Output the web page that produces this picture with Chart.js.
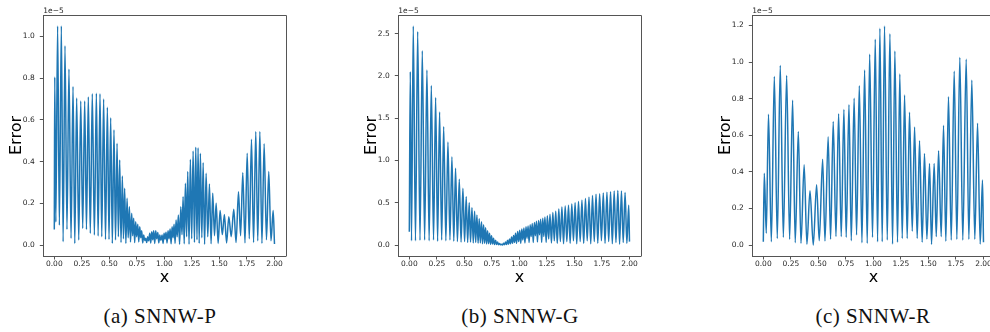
<!DOCTYPE html>
<html>
<head>
<meta charset="utf-8">
<script src="https://cdn.jsdelivr.net/npm/chart.js@4.4.1/dist/chart.umd.min.js"></script>
<style>
  html, body { margin: 0; padding: 0; background: #fff; width: 990px; height: 332px; overflow: hidden; }
  .panel { position: absolute; top: 0; }
  .cap {
    position: absolute; top: 306px; transform: translateX(-50%);
    font: 21px "Liberation Serif", serif; line-height: 21px; letter-spacing: 0.5px;
    white-space: nowrap; color: #111;
  }
</style>
</head>
<body>
<canvas id="chartA" class="panel" width="300" height="290" style="left:0px"></canvas>
<canvas id="chartB" class="panel" width="300" height="290" style="left:355px"></canvas>
<canvas id="chartC" class="panel" width="300" height="290" style="left:709px"></canvas>
<div class="cap" style="left:160px">(a) SNNW-P</div>
<div class="cap" style="left:520px">(b) SNNW-G</div>
<div class="cap" style="left:873px">(c) SNNW-R</div>

<script>
// error curves, values in units of 1e-5 (peaks and troughs)

// ---- (a) SNNW-P
const aPeakX = [0.004, 0.030, 0.064, 0.097, 0.133, 0.170, 0.203, 0.240, 0.276, 0.309, 0.345, 0.382, 0.415, 0.448, 0.482,
  0.512, 0.542, 0.570, 0.594, 0.618, 0.639, 0.661, 0.682, 0.703, 0.721, 0.739, 0.758, 0.776, 0.794, 0.812,
  0.830, 0.848, 0.867, 0.885, 0.903, 0.921, 0.940, 0.958, 0.979, 0.997, 1.015, 1.033, 1.052, 1.070, 1.088,
  1.106, 1.127, 1.149, 1.170, 1.191, 1.212, 1.236, 1.261, 1.285, 1.306, 1.327, 1.352, 1.379, 1.409, 1.439,
  1.470, 1.506, 1.545, 1.585, 1.630, 1.673, 1.712, 1.752, 1.791, 1.830, 1.867, 1.906, 1.948, 1.988];
const aPeakY = [0.805, 1.05, 1.05, 0.955, 0.843, 0.760, 0.705, 0.690, 0.690, 0.710, 0.725, 0.727, 0.725, 0.700, 0.660,
  0.610, 0.552, 0.488, 0.408, 0.331, 0.272, 0.224, 0.184, 0.152, 0.128, 0.112, 0.100, 0.088, 0.069, 0.048,
  0.032, 0.040, 0.056, 0.064, 0.069, 0.069, 0.060, 0.048, 0.048, 0.056, 0.061, 0.069, 0.077, 0.088, 0.100,
  0.120, 0.144, 0.184, 0.232, 0.296, 0.352, 0.411, 0.451, 0.469, 0.466, 0.440, 0.395, 0.344, 0.293, 0.248,
  0.200, 0.165, 0.146, 0.136, 0.171, 0.256, 0.347, 0.440, 0.507, 0.544, 0.544, 0.485, 0.352, 0.165];
const aTroughX = [0.000, 0.014, 0.046, 0.080, 0.115, 0.152, 0.186, 0.222, 0.258, 0.292, 0.327, 0.364, 0.398, 0.431, 0.465,
  0.497, 0.527, 0.556, 0.582, 0.606, 0.628, 0.650, 0.671, 0.692, 0.712, 0.730, 0.748, 0.767, 0.785, 0.803,
  0.821, 0.839, 0.857, 0.876, 0.894, 0.912, 0.930, 0.949, 0.968, 0.988, 1.006, 1.024, 1.042, 1.061, 1.079,
  1.097, 1.116, 1.138, 1.160, 1.180, 1.202, 1.224, 1.248, 1.273, 1.296, 1.316, 1.340, 1.365, 1.394, 1.424,
  1.455, 1.488, 1.526, 1.565, 1.607, 1.651, 1.692, 1.732, 1.771, 1.810, 1.848, 1.886, 1.927, 1.968, 2.000];
const aTroughY = [0.075, 0.110, 0.095, 0.016, 0.075, 0.032, 0.008, 0.024, 0.080, 0.075, 0.056, 0.048, 0.043, 0.040, 0.027,
  0.027, 0.008, 0.024, 0.040, 0.012, 0.030, 0.008, 0.035, 0.015, 0.045, 0.012, 0.040, 0.015, 0.035, 0.010,
  0.022, 0.012, 0.020, 0.010, 0.025, 0.008, 0.030, 0.010, 0.022, 0.008, 0.028, 0.010, 0.030, 0.006, 0.035,
  0.008, 0.040, 0.004, 0.050, 0.006, 0.040, 0.004, 0.030, 0.012, 0.025, 0.008, 0.035, 0.004, 0.040, 0.006,
  0.045, 0.008, 0.050, 0.010, 0.040, 0.012, 0.045, 0.010, 0.030, 0.012, 0.020, 0.008, 0.025, 0.020, 0.005];

// ---- (b) SNNW-G
const bPeakX = [0.009, 0.036, 0.076, 0.118, 0.160, 0.200, 0.239, 0.275, 0.312, 0.351, 0.387, 0.420, 0.454, 0.487, 0.517,
  0.544, 0.569, 0.593, 0.614, 0.635, 0.656, 0.675, 0.693, 0.711, 0.729, 0.747, 0.765, 0.784, 0.802, 0.820,
  0.838, 0.856, 0.874, 0.892, 0.910, 0.929, 0.947, 0.965, 0.984, 1.003, 1.022, 1.041, 1.060, 1.079, 1.098,
  1.117, 1.136, 1.155, 1.174, 1.193, 1.212, 1.232, 1.254, 1.278, 1.304, 1.330, 1.358, 1.386, 1.416, 1.446,
  1.476, 1.506, 1.537, 1.568, 1.600, 1.632, 1.664, 1.696, 1.729, 1.762, 1.795, 1.828, 1.861, 1.894, 1.927,
  1.960, 1.993];
const bPeakY = [2.05, 2.59, 2.524, 2.296, 2.07, 1.885, 1.743, 1.574, 1.40, 1.219, 1.045, 0.907, 0.777, 0.670, 0.572,
  0.500, 0.440, 0.400, 0.355, 0.310, 0.275, 0.240, 0.205, 0.170, 0.140, 0.110, 0.080, 0.055, 0.035, 0.018,
  0.008, 0.020, 0.035, 0.055, 0.072, 0.095, 0.112, 0.140, 0.160, 0.175, 0.190, 0.200, 0.215, 0.225, 0.240,
  0.255, 0.265, 0.280, 0.290, 0.305, 0.315, 0.330, 0.345, 0.365, 0.385, 0.400, 0.425, 0.450, 0.460, 0.470,
  0.485, 0.500, 0.515, 0.530, 0.550, 0.565, 0.585, 0.600, 0.605, 0.615, 0.625, 0.630, 0.640, 0.645, 0.640,
  0.620, 0.470];
const bTroughX = [0.000, 0.020, 0.056, 0.097, 0.139, 0.180, 0.220, 0.257, 0.294, 0.332, 0.369, 0.404, 0.437, 0.470, 0.502,
  0.530, 0.556, 0.581, 0.603, 0.625, 0.645, 0.665, 0.684, 0.702, 0.720, 0.738, 0.756, 0.774, 0.793, 0.811,
  0.829, 0.847, 0.865, 0.883, 0.901, 0.919, 0.938, 0.956, 0.974, 0.993, 1.012, 1.031, 1.050, 1.069, 1.088,
  1.107, 1.126, 1.145, 1.164, 1.183, 1.202, 1.222, 1.243, 1.266, 1.291, 1.317, 1.344, 1.372, 1.401, 1.431,
  1.461, 1.491, 1.521, 1.552, 1.584, 1.616, 1.648, 1.680, 1.712, 1.745, 1.778, 1.811, 1.844, 1.877, 1.910,
  1.943, 1.976, 2.000];
const bTroughY = [0.157, 0.050, 0.050, 0.055, 0.060, 0.050, 0.060, 0.045, 0.060, 0.050, 0.060, 0.045, 0.040, 0.035, 0.040,
  0.030, 0.035, 0.025, 0.030, 0.020, 0.025, 0.015, 0.020, 0.012, 0.015, 0.008, 0.012, 0.005, 0.006, 0.003,
  0.002, 0.001, 0.003, 0.006, 0.010, 0.015, 0.020, 0.030, 0.020, 0.040, 0.020, 0.060, 0.025, 0.080, 0.030,
  0.100, 0.030, 0.110, 0.035, 0.120, 0.030, 0.100, 0.030, 0.070, 0.025, 0.050, 0.020, 0.040, 0.015, 0.040,
  0.020, 0.050, 0.015, 0.040, 0.020, 0.050, 0.015, 0.040, 0.020, 0.050, 0.020, 0.040, 0.015, 0.030, 0.010,
  0.030, 0.020, 0.040];

// ---- (c) SNNW-R
const cPeakX = [0.009, 0.047, 0.100, 0.154, 0.212, 0.266, 0.318, 0.371, 0.424, 0.484, 0.539, 0.589, 0.635, 0.684,
  0.732, 0.778, 0.825, 0.872, 0.920, 0.966, 1.017, 1.059, 1.101, 1.150, 1.195, 1.240, 1.283, 1.328,
  1.374, 1.419, 1.464, 1.510, 1.552, 1.592, 1.637, 1.682, 1.734, 1.785, 1.843, 1.894, 1.946, 1.991];
const cPeakY = [0.392, 0.715, 0.921, 0.981, 0.926, 0.791, 0.620, 0.438, 0.297, 0.330, 0.469, 0.591, 0.675, 0.718,
  0.740, 0.766, 0.802, 0.871, 0.956, 1.043, 1.125, 1.185, 1.197, 1.155, 1.060, 0.935, 0.820, 0.725,
  0.645, 0.570, 0.500, 0.445, 0.445, 0.515, 0.655, 0.810, 0.950, 1.025, 1.015, 0.900, 0.665, 0.355];
const cTroughX = [0.000, 0.027, 0.073, 0.127, 0.182, 0.239, 0.290, 0.342, 0.396, 0.454, 0.508, 0.560, 0.611, 0.660,
  0.708, 0.753, 0.799, 0.847, 0.896, 0.944, 0.992, 1.038, 1.080, 1.126, 1.174, 1.219, 1.262, 1.307,
  1.353, 1.398, 1.443, 1.486, 1.528, 1.571, 1.616, 1.658, 1.707, 1.758, 1.812, 1.867, 1.921, 1.970, 2.000];
const cTroughY = [0.018, 0.064, 0.018, 0.036, 0.042, 0.031, 0.013, 0.009, 0.004, 0.000, 0.024, 0.022, 0.031, 0.046,
  0.046, 0.042, 0.024, 0.055, 0.013, 0.009, 0.042, 0.018, 0.018, 0.027, 0.005, 0.015, 0.036, 0.036,
  0.075, 0.036, 0.015, 0.033, 0.004, 0.046, 0.046, 0.020, 0.027, 0.031, 0.027, 0.031, 0.031, 0.005, 0.015];

// tick labels
const xTicks  = [0, 0.25, 0.5, 0.75, 1.0, 1.25, 1.5, 1.75, 2.0];
const aYTicks = [0, 0.2, 0.4, 0.6, 0.8, 1.0];
const bYTicks = [0, 0.5, 1.0, 1.5, 2.0, 2.5];
const cYTicks = [0, 0.2, 0.4, 0.6, 0.8, 1.0, 1.2];

// merge peaks and troughs into one x-sorted series
const toPoints = (px, py, tx, ty) =>
  px.map((x, i) => ({ x, y: py[i] }))
    .concat(tx.map((x, i) => ({ x, y: ty[i] })))
    .sort((p, q) => p.x - q.x);

const INK = '#262626';
const SPINE = '#555';

// top/right spines and the "1e-5" offset label, like matplotlib
const framePlugin = {
  id: 'frame',
  afterDraw(chart) {
    const { ctx, chartArea: a } = chart;
    ctx.save();
    ctx.strokeStyle = SPINE;
    ctx.lineWidth = 1;
    ctx.beginPath();
    ctx.moveTo(Math.round(a.left) + 0.5, Math.round(a.top) + 0.5);
    ctx.lineTo(Math.round(a.right) + 0.5, Math.round(a.top) + 0.5);
    ctx.lineTo(Math.round(a.right) + 0.5, Math.round(a.bottom) + 0.5);
    ctx.stroke();
    ctx.fillStyle = INK;
    ctx.font = '7.5px "DejaVu Sans"';
    ctx.textAlign = 'left';
    ctx.textBaseline = 'alphabetic';
    ctx.fillText('1e\u22125', a.left, a.top - 1.8);
    ctx.restore();
  }
};

function makeChart(id, points, yMin, yMax, yTicks) {
  return new Chart(document.getElementById(id), {
    type: 'line',
    data: {
      datasets: [{
        data: points,
        borderColor: '#1f77b4',
        borderWidth: 1.5,
        pointRadius: 0,
        cubicInterpolationMode: 'monotone',
        fill: false
      }]
    },
    options: {
      responsive: false,
      animation: false,
      events: [],
      layout: { padding: { top: 15, right: 14.5, bottom: 0, left: 0 } },
      plugins: { legend: { display: false }, tooltip: { enabled: false } },
      scales: {
        x: {
          type: 'linear',
          min: -0.1,
          max: 2.1,
          afterBuildTicks: s => { s.ticks = xTicks.map(v => ({ value: v })); },
          afterFit: s => { s.height = 34; },
          grid: { drawOnChartArea: false, drawTicks: true, tickLength: 3.5, color: SPINE },
          border: { display: true, color: SPINE },
          ticks: {
            padding: 0.5, color: INK, maxRotation: 0, autoSkip: false,
            font: { family: 'DejaVu Sans', size: 7.5 },
            callback: v => Number(v).toFixed(2)
          },
          title: {
            display: true, text: 'x', color: '#000',
            font: { family: 'DejaVu Sans', size: 16 },
            padding: { top: 0, bottom: 2.5 }
          }
        },
        y: {
          type: 'linear',
          min: yMin,
          max: yMax,
          afterBuildTicks: s => { s.ticks = yTicks.map(v => ({ value: v })); },
          afterFit: s => { s.width = 43.3; },
          grid: { drawOnChartArea: false, drawTicks: true, tickLength: 3.5, color: SPINE },
          border: { display: true, color: SPINE },
          ticks: {
            padding: 5, color: INK, autoSkip: false,
            font: { family: 'DejaVu Sans', size: 7.5 },
            callback: v => Number(v).toFixed(1)
          },
          title: {
            display: true, text: 'Error', color: '#000',
            font: { family: 'DejaVu Sans', size: 16 },
            padding: { top: 7, bottom: 0 }
          }
        }
      }
    },
    plugins: [framePlugin]
  });
}

makeChart('chartA', toPoints(aPeakX, aPeakY, aTroughX, aTroughY), -0.0525, 1.1025, aYTicks);
makeChart('chartB', toPoints(bPeakX, bPeakY, bTroughX, bTroughY), -0.13, 2.72, bYTicks);
makeChart('chartC', toPoints(cPeakX, cPeakY, cTroughX, cTroughY), -0.06, 1.257, cYTicks);
</script>
</body>
</html>
